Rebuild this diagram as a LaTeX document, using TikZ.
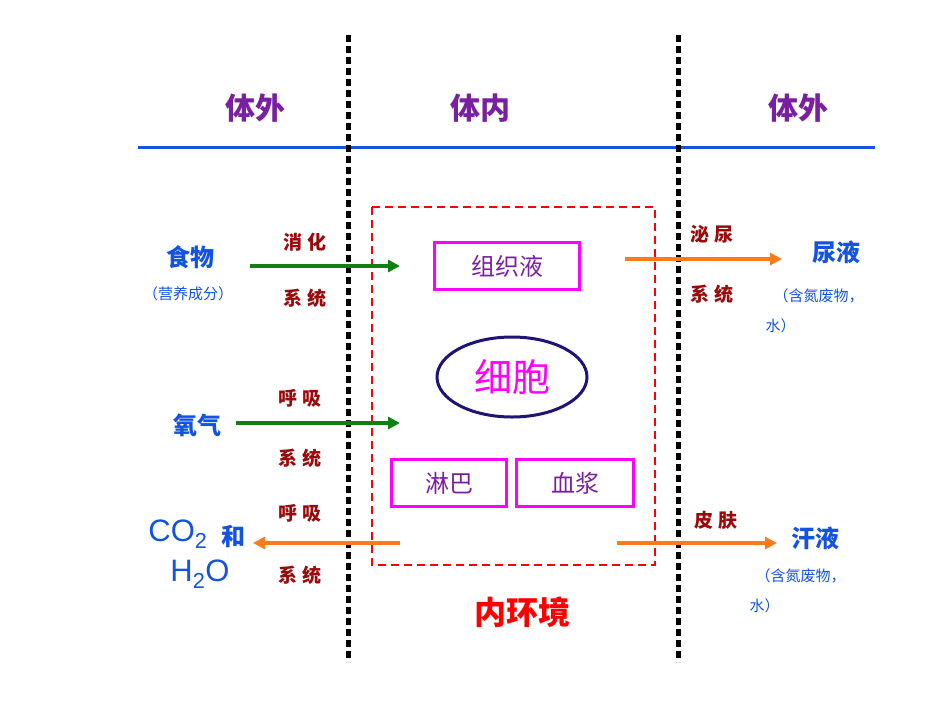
\documentclass[tikz,border=0pt]{standalone}
\usepackage{fontspec}
\newfontfamily\cjk{Noto Sans CJK SC}
\setmainfont{Liberation Sans}
\usetikzlibrary{arrows.meta}
\definecolor{hdr}{HTML}{7A1FA2}
\definecolor{bl}{HTML}{1452E0}
\definecolor{dr}{HTML}{9A0A0A}
\definecolor{mg}{HTML}{FF00FF}
\definecolor{og}{HTML}{FF7A1A}
\definecolor{gr}{HTML}{108010}
\tikzset{
 hd/.style={font=\cjk\bfseries\fontsize{30}{30}\selectfont,text=hdr},
 lb/.style={font=\cjk\bfseries\fontsize{24}{24}\selectfont,text=bl},
 sm/.style={font=\cjk\fontsize{15}{15}\selectfont,text=bl,anchor=west},
 sys/.style={font=\cjk\bfseries\fontsize{19}{19}\selectfont,text=dr},
 bx/.style={draw=mg,line width=3pt,font=\cjk\fontsize{24}{24}\selectfont,text=hdr,inner sep=0pt},
 arr/.style={line width=3.5pt,-{Triangle[length=12pt,width=12pt]}},
 vline/.style={line width=5pt,dash pattern=on 7pt off 4pt}
}
\begin{document}
\begin{tikzpicture}[x=1pt,y=-1pt]
\useasboundingbox (0,0) rectangle (950,713);
\node[hd] (h1) at (255,108) {体外};
\node[hd] (h2) at (480,108) {体内};
\node[hd] (h3) at (798,108) {体外};
\draw[bl,line width=3pt] (138,147) -- (875,147);
\draw[vline] (348,35) -- (348,662);
\draw[vline] (678,35) -- (678,662);
\draw[red,line width=2pt,dash pattern=on 8pt off 5pt] (372,207) rectangle (655,565);
\node[bx,minimum width=145pt,minimum height=47pt] (zz) at (507,266) {组织液};
\node[bx,minimum width=115pt,minimum height=47pt] (lb) at (449,483) {淋巴};
\node[bx,minimum width=117pt,minimum height=47pt] (xj) at (575,483) {血浆};
\draw[draw={rgb,255:red,30;green,20;blue,120},line width=3pt] (512,377) ellipse (75pt and 40pt);
\node[font=\cjk\fontsize{38}{38}\selectfont,text=mg] (xb) at (512,377) {细胞};
\node[font=\cjk\bfseries\fontsize{32}{32}\selectfont,text=red] (nhj) at (522,612) {内环境};
\coordinate (g1a) at (250,266); \coordinate (g1b) at (400,266);
\coordinate (g2a) at (236,423); \coordinate (g2b) at (400,423);
\draw[arr,gr] (g1a) -- (g1b);
\draw[arr,gr] (g2a) -- (g2b);
\coordinate (o1a) at (625,259); \coordinate (o1b) at (782,259);
\coordinate (o2a) at (400,543); \coordinate (o2b) at (253,543);
\coordinate (o3a) at (617,543); \coordinate (o3b) at (777,543);
\draw[arr,og] (o1a) -- (o1b);
\draw[arr,og] (o2a) -- (o2b);
\draw[arr,og] (o3a) -- (o3b);
\node[lb] (sw) at (190,257) {食物};
\node[sm,anchor=center] (yy) at (188,294) {（营养成分）};
\node[sys] (s1) at (305,242) {消 化};
\node[sys] (s2) at (305,298) {系 统};
\node[lb] (yq) at (197,425) {氧气};
\node[sys] (s3) at (300,398) {呼 吸};
\node[sys] (s4) at (300,458) {系 统};
\node[sys] (s5) at (300,513) {呼 吸};
\node[sys] (s6) at (300,575) {系 统};
\node[font=\fontsize{31}{31}\selectfont,text=bl] (co) at (178,534) {CO\textsubscript{2}};
\node[lb] (he) at (233,536) {和};
\node[font=\fontsize{31}{31}\selectfont,text=bl] (h2o) at (200,574) {H\textsubscript{2}O};
\node[sys] (s7) at (712,234) {泌 尿};
\node[sys] (s8) at (712,294) {系 统};
\node[lb] (ny) at (836,252) {尿液};
\node[sm] (n1) at (770,296) {（含氮废物，};
\node[sm] (n2) at (762,326) {水）};
\node[sys] (s9) at (716,520) {皮 肤};
\node[lb] (hy) at (815,538) {汗液};
\node[sm] (n3) at (752,576) {（含氮废物，};
\node[sm] (n4) at (746,606) {水）};
\end{tikzpicture}
\end{document}
